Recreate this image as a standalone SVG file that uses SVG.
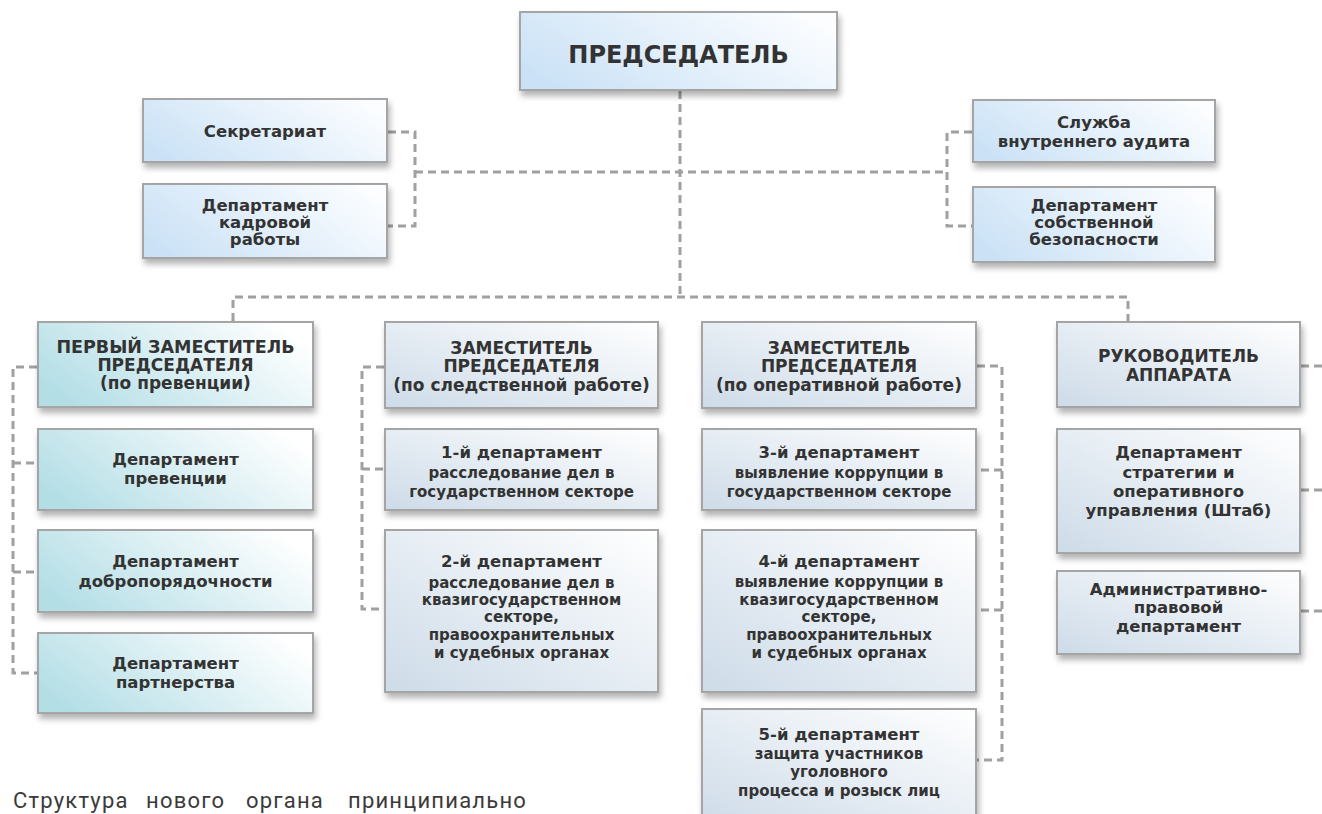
<svg xmlns="http://www.w3.org/2000/svg" width="1322" height="814" viewBox="0 0 1322 814">
<defs>
<linearGradient id="gBlue" x1="0" y1="0.7" x2="1" y2="0.3"><stop offset="0" stop-color="#cbe2f6"/><stop offset="1" stop-color="#fbfdff"/></linearGradient>
<linearGradient id="gTeal" x1="0" y1="0.7" x2="1" y2="0.3"><stop offset="0" stop-color="#b3dee6"/><stop offset="1" stop-color="#ffffff"/></linearGradient>
<linearGradient id="gGray" x1="0" y1="1" x2="1" y2="0"><stop offset="0" stop-color="#cddbe8"/><stop offset="1" stop-color="#ffffff"/></linearGradient>
<filter id="sh" x="-10%" y="-10%" width="125%" height="140%"><feDropShadow dx="2" dy="5" stdDeviation="3" flood-color="#000" flood-opacity="0.3"/></filter>
</defs>
<style>
.box{stroke:#a5a5a5;stroke-width:2;filter:url(#sh)}
.b{fill:url(#gBlue)}.t{fill:url(#gTeal)}.g{fill:url(#gGray)}
text{font-family:"DejaVu Sans","Liberation Sans",sans-serif;font-weight:bold;fill:#333;text-anchor:middle}
.h{font-size:17px}.n{font-size:16.5px}.s{font-size:15px}
.con path{fill:none;stroke:#a0a0a0;stroke-width:3;stroke-dasharray:8 5}
.foot{font-family:Roboto,"Liberation Sans",sans-serif;font-weight:normal;font-size:22px;letter-spacing:1.2px;text-anchor:start;fill:#3a3a3a}
</style>
<rect width="1322" height="814" fill="#ffffff"/>
<g class="con">
<path d="M680 91V297"/>
<path d="M415 172H947"/>
<path d="M388 132H415V226H388"/>
<path d="M972 132H947V226H972"/>
<path d="M233 321V297H1128V321"/>
<path d="M37 367H13V673H37M13 463H37M13 572H37"/>
<path d="M384 367H362V609H384M362 469H384"/>
<path d="M977 366H1002V760H977M1002 470H977M1002 610H977"/>
<path d="M1301 366H1322M1301 490H1322M1301 611H1322"/>
</g>
<g id="chair"><rect class="box b" x="520" y="12" width="317" height="78"/><text x="678.5" y="63" style="font-size:24px">ПРЕДСЕДАТЕЛЬ</text></g>
<g id="secretariat"><rect class="box b" x="143" y="99" width="244" height="63"/><text class="n" x="265" y="137">Секретариат</text></g>
<g id="hr"><rect class="box b" x="143" y="184" width="244" height="74"/><text class="n" x="265" y="211">Департамент</text><text class="n" x="265" y="228">кадровой</text><text class="n" x="265" y="245">работы</text></g>
<g id="audit"><rect class="box b" x="973" y="100" width="242" height="62"/><text class="n" x="1094" y="128">Служба</text><text class="n" x="1094" y="147">внутреннего аудита</text></g>
<g id="security"><rect class="box b" x="973" y="187" width="242" height="75"/><text class="n" x="1094" y="211">Департамент</text><text class="n" x="1094" y="228">собственной</text><text class="n" x="1094" y="245">безопасности</text></g>

<g id="first-deputy"><rect class="box t" x="38" y="322" width="275" height="85"/><text class="h" x="175.5" y="353" style="font-size:17.5px">ПЕРВЫЙ ЗАМЕСТИТЕЛЬ</text><text class="h" x="175.5" y="371">ПРЕДСЕДАТЕЛЯ</text><text class="h" x="175.5" y="389">(по превенции)</text></g>
<g id="prevention"><rect class="box t" x="38" y="429" width="275" height="81"/><text class="n" x="175.5" y="465">Департамент</text><text class="n" x="175.5" y="484">превенции</text></g>
<g id="integrity"><rect class="box t" x="38" y="530" width="275" height="82"/><text class="n" x="175.5" y="567">Департамент</text><text class="n" x="175.5" y="587">добропорядочности</text></g>
<g id="partnership"><rect class="box t" x="38" y="633" width="275" height="80"/><text class="n" x="175.5" y="669">Департамент</text><text class="n" x="175.5" y="688">партнерства</text></g>

<g id="deputy-inv"><rect class="box g" x="385" y="322" width="273" height="86"/><text class="h" x="521.5" y="354">ЗАМЕСТИТЕЛЬ</text><text class="h" x="521.5" y="372">ПРЕДСЕДАТЕЛЯ</text><text class="h" x="521.5" y="391">(по следственной работе)</text></g>
<g id="dep1"><rect class="box g" x="385" y="429" width="273" height="81"/><text class="n" x="521.5" y="458">1-й департамент</text><text class="s" x="521.5" y="478">расследование дел в</text><text class="s" x="521.5" y="497">государственном секторе</text></g>
<g id="dep2"><rect class="box g" x="385" y="530" width="273" height="162"/><text class="n" x="521.5" y="567">2-й департамент</text><text class="s" x="521.5" y="588">расследование дел в</text><text class="s" x="521.5" y="605">квазигосударственном</text><text class="s" x="521.5" y="622">секторе,</text><text class="s" x="521.5" y="640">правоохранительных</text><text class="s" x="521.5" y="658">и судебных органах</text></g>

<g id="deputy-op"><rect class="box g" x="702" y="322" width="274" height="86"/><text class="h" x="839" y="354">ЗАМЕСТИТЕЛЬ</text><text class="h" x="839" y="372">ПРЕДСЕДАТЕЛЯ</text><text class="h" x="839" y="391">(по оперативной работе)</text></g>
<g id="dep3"><rect class="box g" x="702" y="429" width="274" height="81"/><text class="n" x="839" y="458">3-й департамент</text><text class="s" x="839" y="478">выявление коррупции в</text><text class="s" x="839" y="497">государственном секторе</text></g>
<g id="dep4"><rect class="box g" x="702" y="530" width="274" height="162"/><text class="n" x="839" y="567">4-й департамент</text><text class="s" x="839" y="587">выявление коррупции в</text><text class="s" x="839" y="605">квазигосударственном</text><text class="s" x="839" y="622">секторе,</text><text class="s" x="839" y="640">правоохранительных</text><text class="s" x="839" y="658">и судебных органах</text></g>
<g id="dep5"><rect class="box g" x="702" y="709" width="274" height="120"/><text class="n" x="839" y="740">5-й департамент</text><text class="s" x="839" y="759">защита участников</text><text class="s" x="839" y="777">уголовного</text><text class="s" x="839" y="796">процесса и розыск лиц</text></g>

<g id="head-office"><rect class="box g" x="1057" y="322" width="243" height="85"/><text class="h" x="1178.5" y="362">РУКОВОДИТЕЛЬ</text><text class="h" x="1178.5" y="381">АППАРАТА</text></g>
<g id="strategy"><rect class="box g" x="1057" y="429" width="243" height="124"/><text class="n" x="1178.5" y="458">Департамент</text><text class="n" x="1178.5" y="478">стратегии и</text><text class="n" x="1178.5" y="497">оперативного</text><text class="n" x="1178.5" y="516">управления (Штаб)</text></g>
<g id="legal"><rect class="box g" x="1057" y="571" width="243" height="83"/><text class="n" x="1178.5" y="595">Административно-</text><text class="n" x="1178.5" y="613">правовой</text><text class="n" x="1178.5" y="632">департамент</text></g>

<text class="foot" y="808"><tspan x="13">Структура</tspan><tspan x="146">нового</tspan><tspan x="246">органа</tspan><tspan x="348">принципиально</tspan></text>
</svg>
